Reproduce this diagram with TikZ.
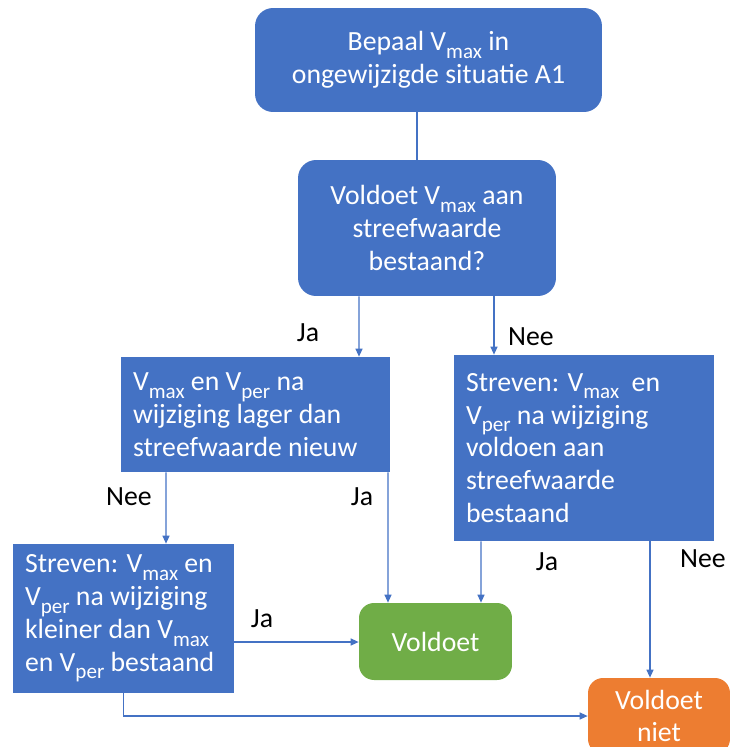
\documentclass[tikz,border=0pt]{standalone}
\usepackage{fontspec}
\setmainfont{Carlito}
\usetikzlibrary{arrows.meta}
\definecolor{offblue}{HTML}{4472C4}
\definecolor{offgreen}{HTML}{70AD47}
\definecolor{offorange}{HTML}{ED7D31}
\newcommand{\Vsub}[1]{V\raisebox{-0.28em}{\fontsize{12}{12}\selectfont #1}}

\begin{document}
\begin{tikzpicture}[
  x=0.02cm, y=-0.02cm,
  box/.style={fill=offblue, text=white, inner xsep=0.24cm, inner ysep=0pt, font=\fontsize{15.8}{18.7}\selectfont},
  rbox/.style={box, rounded corners=0.36cm, align=center},
  sbox/.style={box, align=flush left},
  endbox/.style={box, rounded corners=0.3cm, align=center},
  lbl/.style={anchor=base, inner sep=0pt, font=\fontsize{15.8}{18.7}\selectfont},
  conn/.style={draw=offblue, line width=0.7pt},
  >={Triangle[length=1.6mm, width=1.4mm]}
]
  \useasboundingbox (0,0) rectangle (731,747);
  \clip (0,0) rectangle (731,747);

  % Boxes
  \node[rbox, minimum width=6.94cm, minimum height=2.08cm] (start) at (428.5, 60)
    {Bepaal \Vsub{max} in\\ongewijzigde situatie A1};
  \node[rbox, minimum width=5.16cm, minimum height=2.72cm] (q1) at (427, 228)
    {Voldoet \Vsub{max} aan\\streefwaarde\\bestaand?};
  \node[sbox, text width=4.9cm, minimum height=2.3cm] (q2) at (255.5, 414.5)
    {\Vsub{max} en \Vsub{per} na\\wijziging lager dan\\streefwaarde nieuw};
  \node[sbox, text width=4.72cm, minimum height=3.72cm] (q3) at (584, 448)
    {Streven: \Vsub{max}\ \ en\\\Vsub{per} na wijziging\\voldoen aan\\streefwaarde\\bestaand};
  \node[sbox, text width=3.94cm, minimum height=2.98cm] (q4) at (123.5, 618.5)
    {Streven: \Vsub{max} en\\\Vsub{per} na wijziging\\kleiner dan \Vsub{max}\\en \Vsub{per} bestaand};

  % End states
  \node[endbox, fill=offgreen, minimum width=3.06cm, minimum height=1.54cm] (ok) at (435.5, 641.5)
    {Voldoet};
  \node[endbox, fill=offorange, minimum width=2.84cm, minimum height=1.52cm] (nok) at (659, 716)
    {Voldoet\\niet};

  % Labels
  \node[lbl] (jaA) at (308, 341) {Ja};
  \node[lbl] (neeA) at (531, 345) {Nee};
  \node[lbl] (neeB) at (129, 505) {Nee};
  \node[lbl] (jaB) at (362, 505) {Ja};
  \node[lbl] (jaC) at (547, 570) {Ja};
  \node[lbl] (neeC) at (703, 567) {Nee};
  \node[lbl] (jaD) at (262, 627) {Ja};

  % Connectors
  \draw[conn] ([shift={(-11.5,0)}]start.south) -- ([shift={(-10,0)}]q1.north);
  \draw[conn, ->] ([shift={(-68,0)}]q1.south) -- ([shift={(103.5,0)}]q2.north);
  \draw[conn, ->] ([shift={(67,0)}]q1.south) -- ([shift={(-90,0)}]q3.north);
  \draw[conn, ->] ([shift={(-89.5,0)}]q2.south) -- ([shift={(42.5,0)}]q4.north);
  \draw[conn, ->] ([shift={(132.5,0)}]q2.south) -- ([shift={(-47.5,0)}]ok.north);
  \draw[conn, ->] ([shift={(-103,0)}]q3.south) -- ([shift={(45.5,0)}]ok.north);
  \draw[conn, ->] ([shift={(66,0)}]q3.south) -- ([shift={(-9,0)}]nok.north);
  \draw[conn, ->] ([shift={(0,23.5)}]q4.east) -- ([shift={(0,0.5)}]ok.west);
  \draw[conn, ->] (q4.south) |- (nok.west);
\end{tikzpicture}
\end{document}
